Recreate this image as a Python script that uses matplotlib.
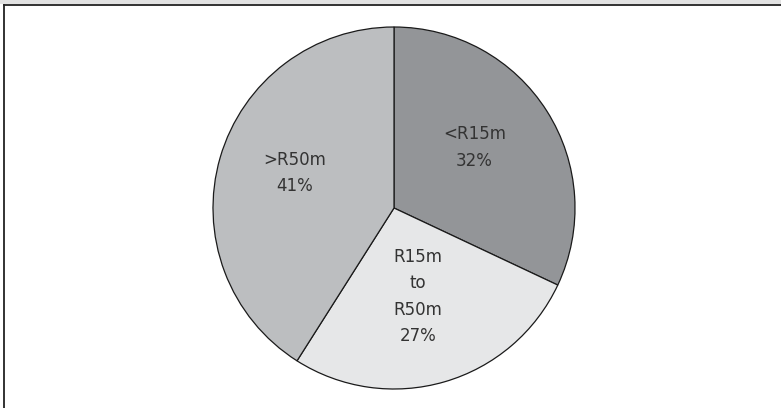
import numpy as np
import matplotlib
matplotlib.use('Agg')
import matplotlib.pyplot as plt
import matplotlib.patches as mpatches

labels = ['<R15m', 'R15m\nto\nR50m', '>R50m']
shares = [32, 27, 41]
colors = ['#939598', '#e6e7e8', '#bcbec0']

W, H = 781, 408
fig = plt.figure(figsize=(W / 100, H / 100), dpi=100)
fig.patch.set_facecolor('white')

# light strip on top and frame line (cut off at right/bottom)
fig.patches.append(mpatches.Rectangle((0, 1 - 4 / H), 1, 4 / H, transform=fig.transFigure,
                                      facecolor='#e2e2e2', edgecolor='none'))
fig.add_artist(plt.Line2D([4 / W, 1], [1 - 5 / H, 1 - 5 / H], transform=fig.transFigure,
                          color='#222222', lw=1.3))
fig.add_artist(plt.Line2D([4 / W, 4 / W], [0, 1 - 5 / H], transform=fig.transFigure,
                          color='#222222', lw=1.3))

cx, cy, r = 394, 208, 181
ax = fig.add_axes([(cx - r) / W, (H - cy - r) / H, 2 * r / W, 2 * r / H])

texts = [f'{l}\n{s}%' for l, s in zip(labels, shares)]
wedges, txts = ax.pie(shares, labels=texts, colors=colors, startangle=90, counterclock=False,
                      labeldistance=0.55,
                      wedgeprops=dict(edgecolor='#1a1a1a', linewidth=0.9),
                      textprops=dict(fontsize=12, color='#333333', ha='center', va='center',
                                     family='DejaVu Sans', linespacing=1.6))
for t in txts:
    t.set_horizontalalignment('center')
    t.set_verticalalignment('center')
    x, y = t.get_position()
    t.set_position((x - 0.02, y + 0.04))
ax.set_xlim(-1, 1)
ax.set_ylim(-1, 1)
ax.set_aspect('equal')

fig.savefig('out.png', dpi=100)
